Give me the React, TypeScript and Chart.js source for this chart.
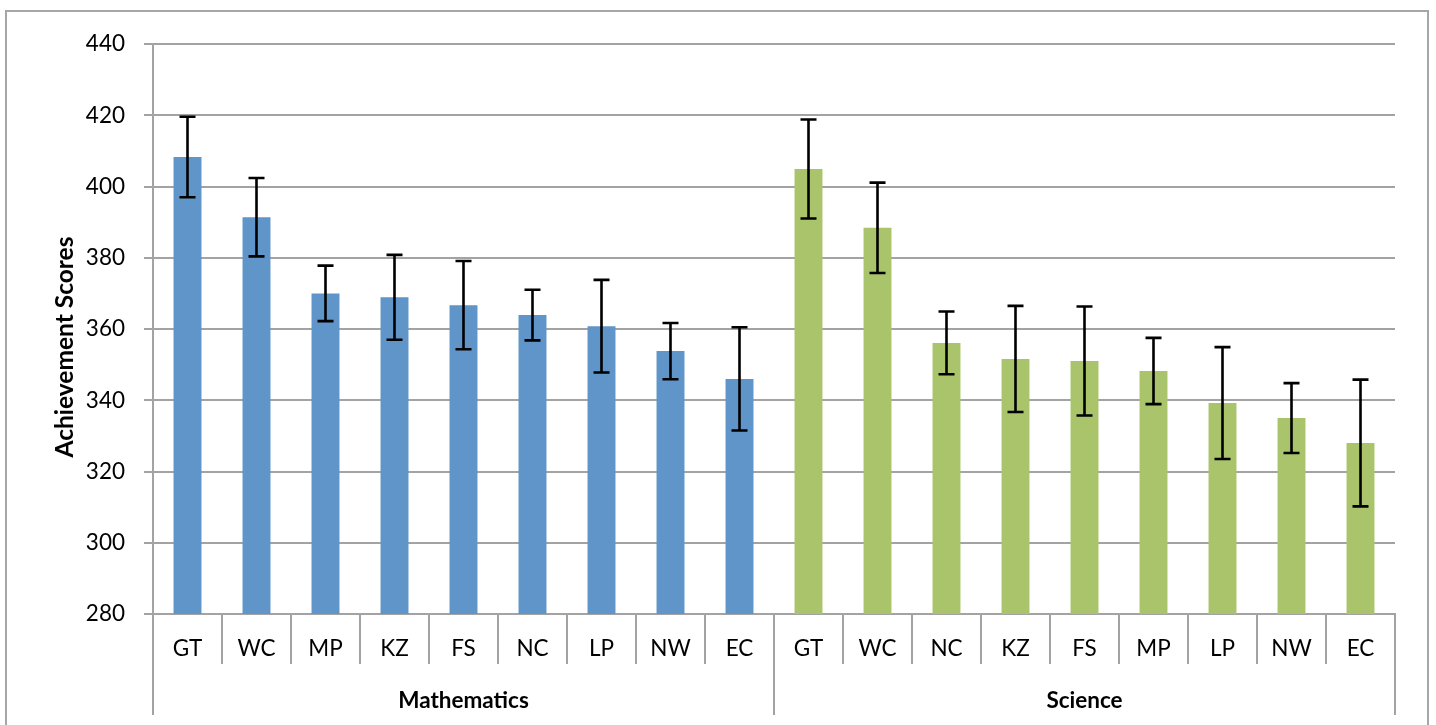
import { useEffect, useRef } from 'react';
import { Chart, registerables } from 'chart.js';

Chart.register(...registerables);

// ---- data ----
const groupLabels = ['Mathematics', 'Science'];
const mathCategories = ['GT', 'WC', 'MP', 'KZ', 'FS', 'NC', 'LP', 'NW', 'EC'];
const mathScores = [408.3, 391.4, 370.0, 368.9, 366.7, 363.9, 360.8, 353.8, 346.0];
const mathErrors = [11.3, 11.0, 7.8, 11.9, 12.4, 7.1, 13.0, 7.9, 14.5];
const sciCategories = ['GT', 'WC', 'NC', 'KZ', 'FS', 'MP', 'LP', 'NW', 'EC'];
const sciScores = [404.9, 388.4, 356.1, 351.6, 351.0, 348.2, 339.2, 335.0, 328.0];
const sciErrors = [13.9, 12.7, 8.8, 14.9, 15.3, 9.3, 15.7, 9.8, 17.8];
const yTitle = 'Achievement Scores';
const yMin = 280;
const yMax = 440;
const yStep = 20;

// ---- style ----
const MATH_COLOR = '#5F95C9';
const SCI_COLOR = '#AAC46B';
const GRID = '#a3a3a3';
const FONT = 'Lato, "Open Sans", sans-serif';

export default function App() {
  const ref = useRef<HTMLCanvasElement>(null);

  useEffect(() => {
    document.body.style.margin = '0';
    const labels = [...mathCategories, ...sciCategories];
    const values = [...mathScores, ...sciScores];
    const errors = [...mathErrors, ...sciErrors];
    const colors = [
      ...mathCategories.map(() => MATH_COLOR),
      ...sciCategories.map(() => SCI_COLOR),
    ];

    const errorBars = {
      id: 'errorBars',
      afterDatasetsDraw(chart: any) {
        const meta = chart.getDatasetMeta(0);
        const y = chart.scales.y;
        const ctx = chart.ctx;
        ctx.save();
        ctx.strokeStyle = '#000';
        ctx.lineWidth = 2.6;
        meta.data.forEach((bar: any, i: number) => {
          const x = bar.x;
          const top = y.getPixelForValue(values[i] + errors[i]);
          const bot = y.getPixelForValue(values[i] - errors[i]);
          ctx.beginPath();
          ctx.moveTo(x, top);
          ctx.lineTo(x, bot);
          ctx.moveTo(x - 8, top);
          ctx.lineTo(x + 8, top);
          ctx.moveTo(x - 8, bot);
          ctx.lineTo(x + 8, bot);
          ctx.stroke();
        });
        ctx.restore();
      },
    };

    const yTitlePlugin = {
      id: 'yTitlePlugin',
      afterDraw(chart: any) {
        const ctx = chart.ctx;
        const area = chart.chartArea;
        ctx.save();
        ctx.translate(65, (area.top + area.bottom) / 2 + 18);
        ctx.rotate(-Math.PI / 2);
        ctx.font = `bold 24.5px ${FONT}`;
        ctx.fillStyle = '#000';
        ctx.textAlign = 'center';
        ctx.textBaseline = 'middle';
        ctx.fillText(yTitle, 0, 0);
        ctx.restore();
      },
    };

    const chart = new Chart(ref.current as HTMLCanvasElement, {
      type: 'bar',
      data: {
        labels,
        datasets: [
          {
            data: values,
            backgroundColor: colors,
            barPercentage: 0.405,
            categoryPercentage: 1,
          },
        ],
      },
      options: {
        animation: false,
        responsive: true,
        maintainAspectRatio: false,
        layout: { padding: { left: 0, top: 44, right: 41, bottom: 10 } },
        plugins: { legend: { display: false }, tooltip: { enabled: false } },
        scales: {
          x: {
            type: 'category',
            position: 'bottom',
            offset: true,
            grid: {
              offset: true,
              drawOnChartArea: false,
              drawTicks: true,
              tickLength: 50,
              color: GRID,
              lineWidth: 2,
            },
            border: { display: true, color: GRID, width: 2 },
            ticks: {
              padding: -29,
              color: '#000',
              font: { family: FONT, size: 22.5 },
              maxRotation: 0,
              autoSkip: false,
            },
            afterFit: (s: any) => {
              s.height = 50;
            },
          },
          x2: {
            type: 'category',
            position: 'bottom',
            labels: groupLabels,
            offset: true,
            grid: {
              offset: true,
              drawOnChartArea: false,
              drawTicks: true,
              tickLength: 51,
              color: GRID,
              lineWidth: 2,
            },
            border: { display: false },
            ticks: {
              padding: -28,
              color: '#000',
              font: { family: FONT, size: 22.5, weight: 'bold' },
              maxRotation: 0,
              autoSkip: false,
            },
            afterFit: (s: any) => {
              s.height = 51;
            },
          },
          y: {
            min: yMin,
            max: yMax,
            ticks: {
              stepSize: yStep,
              padding: 19,
              color: '#000',
              font: { family: FONT, size: 22.5 },
            },
            grid: { color: GRID, lineWidth: 2, tickLength: 9 },
            border: { color: GRID, width: 2 },
            afterFit: (s: any) => {
              s.width = 153;
            },
          },
        },
      } as any,
      plugins: [errorBars, yTitlePlugin],
    });
    return () => chart.destroy();
  }, []);

  return (
    <div
      style={{
        position: 'relative',
        width: 1436,
        height: 725,
        overflow: 'hidden',
        background: '#fff',
      }}
    >
      <div
        style={{
          position: 'absolute',
          left: 5,
          top: 10,
          width: 1420,
          height: 800,
          border: '2px solid #a6a6a6',
        }}
      />
      <canvas
        ref={ref}
        style={{ position: 'absolute', left: 0, top: 0, width: 1436, height: 725 }}
      />
    </div>
  );
}
